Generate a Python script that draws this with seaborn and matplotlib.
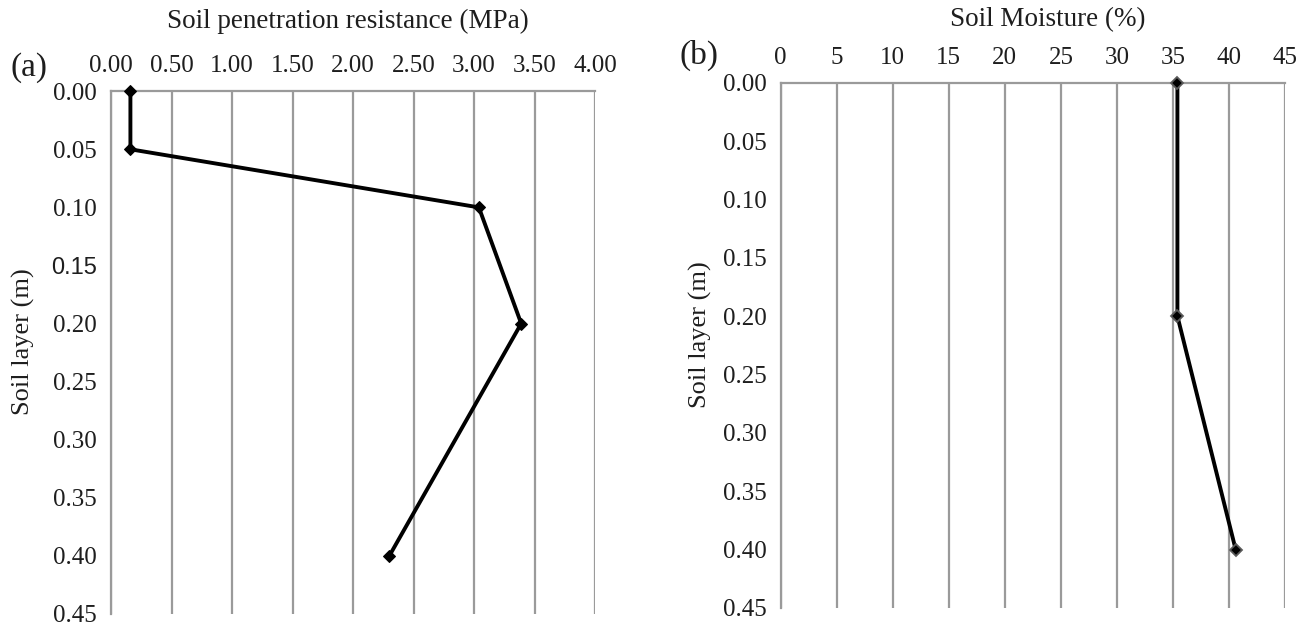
import matplotlib
matplotlib.use("Agg")
import matplotlib.pyplot as plt
import seaborn as sns
import pandas as pd

# ---- data ----
depth_a = [0.00, 0.05, 0.10, 0.20, 0.40]
resistance = [0.16, 0.16, 3.04, 3.39, 2.30]
depth_b = [0.00, 0.20, 0.40]
moisture = [35.4, 35.4, 40.6]

xticks_a = [0.0, 0.5, 1.0, 1.5, 2.0, 2.5, 3.0, 3.5, 4.0]
xticks_b = [0, 5, 10, 15, 20, 25, 30, 35, 40, 45]
yticks = [0.00, 0.05, 0.10, 0.15, 0.20, 0.25, 0.30, 0.35, 0.40, 0.45]

sns.set_theme(style="white")
plt.rcParams['font.family'] = ['Liberation Serif', 'DejaVu Serif']

TXT = "#1e1e1e"
fig = plt.figure(figsize=(13.08, 6.26), dpi=100)
axA = fig.add_axes([0.0849, 0.0192, 0.4549 - 0.0849, 0.8543 - 0.0192])
axB = fig.add_axes([0.5969, 0.0288, 0.9824 - 0.5969, 0.8679 - 0.0288])

dfA = pd.DataFrame({"x": resistance, "y": depth_a})
dfB = pd.DataFrame({"x": moisture, "y": depth_b})

sns.lineplot(data=dfA, x="x", y="y", sort=False, orient="y", estimator=None,
             ax=axA, color="black", linewidth=2.8, marker="D", markersize=6,
             markeredgecolor="black", clip_on=False, zorder=5)
sns.lineplot(data=dfB, x="x", y="y", sort=False, orient="y", estimator=None,
             ax=axB, color="black", linewidth=2.8, marker="D", markersize=6.5,
             markeredgecolor="#5a5a5a", markeredgewidth=1.3, clip_on=False,
             zorder=5)

grid_c = "#9a9a9a"
setup = [
    (axA, xticks_a, (0, 4), "{:.2f}", "Soil penetration resistance (MPa)",
     (0.49, 1.1335), (-0.181, 0.521)),
    (axB, xticks_b, (0, 45), "{:d}", "Soil Moisture (%)",
     (0.53, 1.1194), (-0.160, 0.5197)),
]
for ax, xt, xlim, fmt, xlabel, xlc, ylc in setup:
    ax.set_xlim(*xlim)
    ax.set_ylim(0.45, 0.0)
    ax.xaxis.tick_top()
    ax.xaxis.set_label_position("top")
    ax.set_xticks(xt)
    ax.set_xticklabels([fmt.format(v) for v in xt])
    ax.set_yticks(yticks)
    ax.set_yticklabels(["{:.2f}".format(v) for v in yticks])
    ax.tick_params(axis="x", length=0, pad=10, labelsize=18, colors=TXT)
    ax.tick_params(axis="y", length=0, pad=10, labelsize=18, colors=TXT)
    ax.grid(axis="x", color=grid_c, linewidth=1.6)
    ax.grid(axis="y", visible=False)
    for s in ["bottom", "right"]:
        ax.spines[s].set_visible(False)
    for s in ["top", "left"]:
        ax.spines[s].set_color(grid_c)
        ax.spines[s].set_linewidth(1.6)
    ax.set_xlabel(xlabel, fontsize=19.5, color=TXT)
    ax.xaxis.label.set_va("center")
    ax.xaxis.set_label_coords(*xlc)
    ax.set_ylabel("Soil layer (m)", fontsize=19, color=TXT)
    ax.yaxis.label.set_va("center")
    ax.yaxis.label.set_ha("center")
    ax.yaxis.set_label_coords(*ylc)

# the 0.15 label in panel (a) is drawn in a sans-serif face
for lbl in axA.get_yticklabels():
    if lbl.get_text() == "0.15":
        lbl.set_fontfamily(["Liberation Sans", "DejaVu Sans"])
        lbl.set_fontsize(17)

fig.text(0.02255, 0.8914, "(a)", fontsize=24, color=TXT, ha="center", va="center")
fig.text(0.5344, 0.9121, "(b)", fontsize=24, color=TXT, ha="center", va="center")

fig.savefig("out.png", dpi=100)
